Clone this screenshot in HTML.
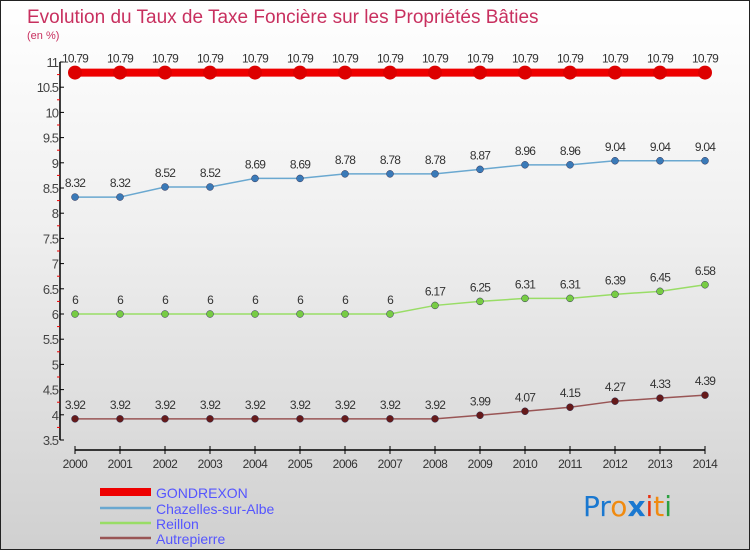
<!DOCTYPE html>
<html><head><meta charset="utf-8"><style>
body{margin:0;width:750px;height:550px;overflow:hidden;font-family:"Liberation Sans",sans-serif}
#c{position:absolute;left:0;top:0;width:748px;height:548px;border:1px solid #222;background:linear-gradient(#ffffff,#f0f0f0 40%,#d0d0d0)}
</style></head><body>
<div id="c"></div>
<svg id="s" width="750" height="550" style="position:absolute;left:0;top:0">
<text x="27" y="23" font-size="19" fill="#c8305f">Evolution du Taux de Taxe Foncière sur les Propriétés Bâties</text>
<text x="27" y="39" font-size="11" fill="#c8305f">(en %)</text>
<g id="ax"></g><g id="ser"></g>
<g font-size="14" fill="#5555ff">
<line x1="100" y1="492" x2="151" y2="492" stroke="#ee0000" stroke-width="8"/>
<text x="156" y="498">GONDREXON</text>
<line x1="100" y1="508" x2="151" y2="508" stroke="#6aa8d0" stroke-width="2.5"/>
<text x="156" y="514">Chazelles-sur-Albe</text>
<line x1="100" y1="523" x2="151" y2="523" stroke="#99dd66" stroke-width="2.5"/>
<text x="156" y="529">Reillon</text>
<line x1="100" y1="538" x2="151" y2="538" stroke="#995555" stroke-width="2.5"/>
<text x="156" y="544">Autrepierre</text>
</g>
<g font-size="28" font-family="'DejaVu Sans',sans-serif">
<text x="583" y="516"><tspan fill="#1a78d0">Pr</tspan><tspan fill="#f08a10">o</tspan><tspan fill="#1a78d0" font-weight="bold">x</tspan><tspan fill="#e83010">i</tspan><tspan fill="#f08a10">t</tspan><tspan fill="#2aa040">i</tspan></text>
</g>
</svg>
<script>
const years=[2000,2001,2002,2003,2004,2005,2006,2007,2008,2009,2010,2011,2012,2013,2014];
const gondrexon=[10.79,10.79,10.79,10.79,10.79,10.79,10.79,10.79,10.79,10.79,10.79,10.79,10.79,10.79,10.79];
const chazelles=[8.32,8.32,8.52,8.52,8.69,8.69,8.78,8.78,8.78,8.87,8.96,8.96,9.04,9.04,9.04];
const reillon=[6,6,6,6,6,6,6,6,6.17,6.25,6.31,6.31,6.39,6.45,6.58];
const autrepierre=[3.92,3.92,3.92,3.92,3.92,3.92,3.92,3.92,3.92,3.99,4.07,4.15,4.27,4.33,4.39];
const yTicks=[3.5,4,4.5,5,5.5,6,6.5,7,7.5,8,8.5,9,9.5,10,10.5,11];
const NS='http://www.w3.org/2000/svg';
const X=i=>75+i*45, Y=v=>62+(11-v)*(378/7.5);
function mk(t,a,p){const e=document.createElementNS(NS,t);for(const k in a)e.setAttribute(k,a[k]);p.appendChild(e);return e;}
const ax=document.getElementById('ax');
const yl=mk('line',{x1:60,y1:Y(11),x2:60,y2:Y(3.5),stroke:'#000','stroke-width':1.5},ax);


yTicks.forEach(v=>{
 mk('line',{x1:60,y1:Y(v),x2:64,y2:Y(v),stroke:'#000'},ax);
 mk('line',{x1:57,y1:Y(v+0.25),x2:60,y2:Y(v+0.25),stroke:v<11?'#e00':'none'},ax);
 const t=mk('text',{x:58,y:Y(v)+5,'text-anchor':'end','font-size':13,fill:'#444','letter-spacing':'-1'},ax);
 t.textContent=String(v);
 
 
});
const xl=mk('line',{x1:X(0),y1:450,x2:X(years.length-1),y2:450,stroke:'#000','stroke-width':1.5},ax);


years.forEach((y,i)=>{
 mk('line',{x1:X(i),y1:446,x2:X(i),y2:454,stroke:'#000'},ax);
 const t=mk('text',{x:X(i),y:468,'text-anchor':'middle','font-size':12,fill:'#333','letter-spacing':'-0.5'},ax);
 t.textContent=y;
 
 
});
const ser=document.getElementById('ser');
[[gondrexon,'#ee0000','#dd0000',8,7,'gondrexon'],[chazelles,'#6aa8d0','#3a7ab8',1.5,3.5,'chazelles'],[reillon,'#99dd66','#77cc44',1.5,3.5,'reillon'],[autrepierre,'#995555','#661a1a',1.5,3.5,'autrepierre']].forEach(([d,lc,pc,w,r,n])=>{
 const g=mk('g',{},ser);
 
 
 const p=mk('polyline',{points:d.map((v,i)=>X(i)+','+Y(v)).join(' '),fill:'none',stroke:lc,'stroke-width':w},g);
 
 
 d.forEach((v,i)=>{
  const c=mk('circle',{cx:X(i),cy:Y(v),r:r,fill:pc,stroke:r>5?'none':'#335',"stroke-width":0.5},g);
  
  
  const t=mk('text',{x:X(i),y:Y(v)-10,'text-anchor':'middle','font-size':12,fill:'#333','letter-spacing':'-0.8'},g);
  t.textContent=String(v);
  
  
 });
});
</script>
</body></html>
